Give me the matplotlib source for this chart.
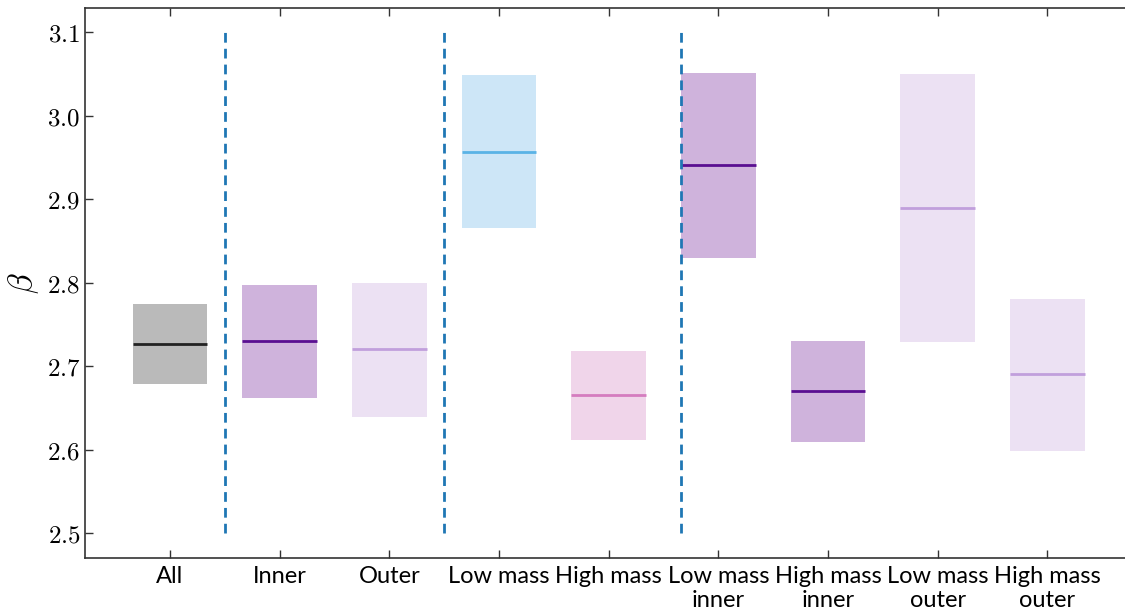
import matplotlib
matplotlib.use("Agg")
import matplotlib.pyplot as plt
import numpy as np

plt.rcParams['mathtext.fontset'] = 'cm'

categories = ["All", "Inner", "Outer", "Low mass", "High mass",
              "Low mass\ninner", "High mass\ninner", "Low mass\nouter", "High mass\nouter"]
lower = [2.678, 2.662, 2.639, 2.865, 2.611, 2.829, 2.609, 2.729, 2.598]
upper = [2.774, 2.797, 2.800, 3.049, 2.718, 3.051, 2.730, 3.050, 2.780]
median = [2.726, 2.730, 2.720, 2.957, 2.665, 2.941, 2.670, 2.890, 2.690]
fill_colors = ["#bababa", "#cfb3dc", "#ece1f3", "#cde6f7", "#f0d5ea",
               "#cfb3dc", "#cfb3dc", "#ece1f3", "#ece1f3"]
line_colors = ["#222222", "#5a0f91", "#c19fdc", "#5ab3e6", "#d57cbf",
               "#5a0f91", "#5a0f91", "#c19fdc", "#c19fdc"]
separators = [0.5, 2.5, 4.66]
yticks = [2.5, 2.6, 2.7, 2.8, 2.9, 3.0, 3.1]

fig = plt.figure(figsize=(11.25, 6.15), dpi=100)
ax = fig.add_axes([0.0756, 0.0927, 0.943, 0.894])

x = np.arange(len(categories))
w = 0.68
heights = [u - l for u, l in zip(upper, lower)]
ax.bar(x, heights, bottom=lower, width=w, color=fill_colors, edgecolor='none', zorder=1)
for xi, m, c in zip(x, median, line_colors):
    ax.hlines(m, xi - w / 2, xi + w / 2, colors=c, linewidth=2, zorder=2)

for s in separators:
    ax.vlines(s, 2.5, 3.1, colors='#1f77b4', linestyles=(0, (3.5, 2.2)), linewidth=2, zorder=3)

ax.set_xlim(-0.775, 8.9)
ax.set_ylim(2.47, 3.129)
ax.set_xticks(x)
ax.set_xticklabels(categories, fontsize=17, family='Lato', linespacing=1.15)
ax.set_yticks(yticks)
ax.set_yticklabels([f"${v:.1f}$" for v in yticks], fontsize=18)
ax.set_ylabel(r"$\beta$", fontsize=24, labelpad=4)

for side in ['top', 'bottom', 'left', 'right']:
    ax.spines[side].set_color('#333333')
    ax.spines[side].set_linewidth(1.2)
ax.spines['right'].set_visible(False)
ax.tick_params(axis='both', direction='in', top=True, right=False, length=6, width=1.0, color='#333333')
ax.tick_params(axis='x', pad=6)

fig.savefig("out.png", dpi=100)
